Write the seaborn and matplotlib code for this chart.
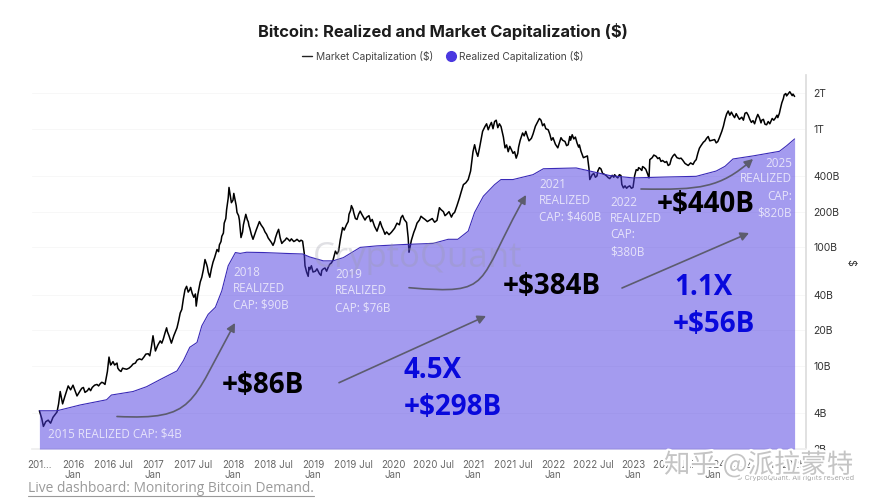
import pandas as pd
import seaborn as sns
import matplotlib.pyplot as plt
import matplotlib.patheffects as pe
from matplotlib.lines import Line2D
from matplotlib.patches import FancyArrowPatch
from matplotlib.path import Path

market_years = [
    2015.58, 2015.61, 2015.63, 2015.66, 2015.69, 2015.72, 2015.75, 2015.80, 2015.82, 2015.84,
    2015.87, 2015.90, 2015.94, 2015.97, 2016.00, 2016.03, 2016.05, 2016.09, 2016.13, 2016.15,
    2016.18, 2016.24, 2016.30, 2016.32, 2016.36, 2016.40, 2016.43, 2016.45, 2016.47, 2016.48,
    2016.55, 2016.56, 2016.60, 2016.64, 2016.67, 2016.73, 2016.78, 2016.83, 2016.89, 2016.94,
    2016.98, 2017.00, 2017.03, 2017.06, 2017.09, 2017.13, 2017.17, 2017.20, 2017.23, 2017.26,
    2017.30, 2017.34, 2017.38, 2017.42, 2017.46, 2017.49, 2017.53, 2017.54, 2017.56, 2017.59,
    2017.63, 2017.65, 2017.68, 2017.71, 2017.75, 2017.80, 2017.83, 2017.86, 2017.89, 2017.92,
    2017.95, 2017.98, 2018.01, 2018.04, 2018.05, 2018.08, 2018.10, 2018.13, 2018.16, 2018.19,
    2018.21, 2018.25, 2018.29, 2018.33, 2018.38, 2018.42, 2018.46, 2018.50, 2018.53, 2018.57,
    2018.59, 2018.61, 2018.65, 2018.69, 2018.78, 2018.87, 2018.89, 2018.90, 2018.94, 2018.96,
    2018.98, 2019.03, 2019.08, 2019.11, 2019.15, 2019.19, 2019.23, 2019.28, 2019.32, 2019.37,
    2019.42, 2019.45, 2019.48, 2019.51, 2019.55, 2019.59, 2019.63, 2019.67, 2019.74, 2019.80,
    2019.84, 2019.88, 2019.90, 2019.98, 2020.05, 2020.12, 2020.17, 2020.19, 2020.20, 2020.23,
    2020.26, 2020.30, 2020.35, 2020.40, 2020.46, 2020.55, 2020.58, 2020.63, 2020.67, 2020.77,
    2020.83, 2020.88, 2020.94, 2020.99, 2021.02, 2021.06, 2021.10, 2021.15, 2021.19, 2021.27,
    2021.31, 2021.35, 2021.38, 2021.40, 2021.48, 2021.54, 2021.59, 2021.62, 2021.68, 2021.73,
    2021.78, 2021.83, 2021.89, 2021.94, 2022.00, 2022.06, 2022.10, 2022.15, 2022.19, 2022.24,
    2022.30, 2022.35, 2022.38, 2022.43, 2022.45, 2022.46, 2022.49, 2022.53, 2022.56, 2022.60,
    2022.65, 2022.69, 2022.74, 2022.79, 2022.85, 2022.86, 2022.88, 2022.94, 2023.00, 2023.02,
    2023.04, 2023.09, 2023.14, 2023.18, 2023.20, 2023.21, 2023.29, 2023.37, 2023.46, 2023.50,
    2023.55, 2023.60, 2023.67, 2023.72, 2023.79, 2023.83, 2023.88, 2023.92, 2023.99, 2024.06,
    2024.11, 2024.15, 2024.19, 2024.25, 2024.31, 2024.40, 2024.46, 2024.52, 2024.56, 2024.61,
    2024.67, 2024.74, 2024.78, 2024.83, 2024.86, 2024.89, 2024.92, 2024.96, 2024.99, 2025.02,
]
market_cap = [
    4.2, 3.6, 3.1, 3.4, 3.5, 3.3, 3.7, 4.1, 4.8, 6.1,
    4.8, 5.6, 6.8, 6.3, 6.9, 6.1, 5.6, 6.2, 6.6, 6.0,
    6.2, 6.6, 7.0, 6.8, 7.3, 7.0, 9.0, 11.9, 10.2, 10.4,
    10.6, 9.6, 9.0, 9.5, 9.4, 10.0, 10.6, 11.5, 12.0, 12.7,
    14.5, 18.0, 13.4, 15.0, 16.3, 17.0, 21.0, 18.0, 15.6, 18.0,
    21.0, 28.0, 37.0, 47.0, 44.0, 41.0, 40.5, 32.0, 40.0, 51.0,
    65.0, 79.0, 68.0, 56.0, 75.0, 96.0, 105.0, 124.0, 160.0, 208.0,
    320.0, 238.0, 285.0, 225.0, 197.0, 170.0, 121.0, 155.0, 190.0, 165.0,
    145.0, 117.0, 140.0, 165.0, 145.0, 129.0, 115.0, 104.0, 120.0, 142.0,
    120.0, 108.0, 115.0, 117.0, 114.0, 113.0, 90.0, 70.0, 57.0, 65.0,
    70.0, 63.0, 60.0, 64.0, 67.0, 68.0, 74.0, 93.0, 93.0, 147.0,
    156.0, 190.0, 225.0, 195.0, 172.0, 202.0, 180.0, 179.0, 172.0, 137.0,
    165.0, 140.0, 129.0, 134.0, 160.0, 186.0, 162.0, 120.0, 91.0, 115.0,
    134.0, 160.0, 183.0, 172.0, 170.0, 169.0, 216.0, 200.0, 190.0, 197.0,
    260.0, 338.0, 373.0, 560.0, 733.0, 585.0, 800.0, 1045.0, 980.0, 1150.0,
    1020.0, 1045.0, 850.0, 690.0, 666.0, 565.0, 800.0, 920.0, 860.0, 830.0,
    1050.0, 1220.0, 1100.0, 980.0, 840.0, 690.0, 840.0, 780.0, 733.0, 890.0,
    760.0, 645.0, 570.0, 590.0, 460.0, 373.0, 410.0, 390.0, 440.0, 458.0,
    410.0, 387.0, 405.0, 395.0, 403.0, 340.0, 317.0, 325.0, 320.0, 400.0,
    452.0, 460.0, 470.0, 420.0, 385.0, 549.0, 585.0, 540.0, 500.0, 590.0,
    570.0, 565.0, 500.0, 515.0, 549.0, 685.0, 770.0, 830.0, 800.0, 780.0,
    950.0, 1200.0, 1410.0, 1300.0, 1265.0, 1350.0, 1200.0, 1100.0, 1320.0, 1180.0,
    1080.0, 1220.0, 1230.0, 1350.0, 1650.0, 1930.0, 1890.0, 2050.0, 1900.0, 1870.0,
]

# in-between wiggles of the same line, (year, cap)
market_detail = [
    (2016.07, 5.9), (2016.11, 6.5), (2016.20, 6.5), (2016.22, 6.2), (2016.27, 6.9), (2016.34, 7.1),
    (2016.38, 7.2), (2016.50, 10.9), (2016.52, 10.2), (2016.58, 9.2), (2016.62, 9.6), (2016.70, 9.6),
    (2016.75, 10.4), (2016.80, 11.2), (2016.86, 11.3), (2016.91, 12.6), (2016.96, 12.2),
    (2017.11, 15.6), (2017.15, 19), (2017.18, 19.5), (2017.28, 19.5), (2017.32, 24), (2017.36, 30),
    (2017.40, 44), (2017.44, 42), (2017.47, 46), (2017.51, 38), (2017.61, 56), (2017.67, 72),
    (2017.69, 62), (2017.73, 66), (2017.77, 82), (2017.82, 92), (2017.85, 112), (2017.88, 132),
    (2017.91, 175), (2017.94, 260), (2017.97, 265), (2018.00, 250), (2018.03, 245), (2018.07, 185),
    (2018.12, 135), (2018.15, 178), (2018.18, 170), (2018.20, 152), (2018.23, 128), (2018.27, 128),
    (2018.31, 152), (2018.35, 155), (2018.40, 135), (2018.44, 120), (2018.48, 110), (2018.52, 112),
    (2018.55, 132), (2018.63, 112), (2018.67, 120), (2018.71, 113), (2018.73, 118), (2018.76, 112),
    (2018.80, 117), (2018.83, 112), (2018.85, 115), (2018.92, 62), (2018.95, 68), (2019.00, 62),
    (2019.05, 66), (2019.10, 58), (2019.13, 66), (2019.17, 63), (2019.21, 72), (2019.25, 78),
    (2019.30, 88), (2019.34, 115), (2019.39, 140), (2019.44, 165), (2019.47, 205), (2019.50, 210),
    (2019.53, 175), (2019.57, 190), (2019.61, 190), (2019.65, 170), (2019.70, 185), (2019.72, 165),
    (2019.77, 150), (2019.82, 150), (2019.86, 150), (2019.92, 135), (2019.95, 128), (2020.02, 145),
    (2020.08, 155), (2020.10, 178), (2020.14, 172), (2020.28, 145), (2020.33, 170), (2020.37, 178),
    (2020.43, 165), (2020.49, 175), (2020.52, 163), (2020.60, 208), (2020.65, 185), (2020.70, 200),
    (2020.73, 180), (2020.75, 192), (2020.80, 225), (2020.85, 290), (2020.91, 350), (2020.97, 440),
    (2021.00, 640), (2021.04, 640), (2021.08, 680), (2021.12, 950), (2021.17, 1100), (2021.21, 1060),
    (2021.23, 1130), (2021.25, 1000), (2021.29, 1180), (2021.33, 1100), (2021.42, 730), (2021.44, 640),
    (2021.46, 710), (2021.50, 620), (2021.52, 640), (2021.56, 620), (2021.57, 700), (2021.64, 870),
    (2021.66, 950), (2021.70, 790), (2021.75, 900), (2021.81, 1150), (2021.85, 1180), (2021.87, 1060),
    (2021.91, 1000), (2021.96, 900), (2021.98, 800), (2022.03, 740), (2022.08, 760), (2022.12, 800),
    (2022.17, 720), (2022.21, 860), (2022.22, 800), (2022.26, 820), (2022.28, 850), (2022.32, 700),
    (2022.33, 730), (2022.51, 420), (2022.55, 400), (2022.58, 470), (2022.62, 420), (2022.67, 400),
    (2022.71, 380), (2022.76, 390), (2022.77, 410), (2022.81, 385), (2022.83, 410), (2022.90, 330),
    (2022.92, 315), (2022.96, 330), (2022.98, 315), (2023.06, 445), (2023.07, 470), (2023.11, 445),
    (2023.12, 480), (2023.16, 455), (2023.24, 570), (2023.26, 600), (2023.31, 560), (2023.33, 570),
    (2023.35, 530), (2023.40, 520), (2023.42, 530), (2023.44, 490), (2023.48, 560), (2023.52, 610),
    (2023.58, 560), (2023.62, 545), (2023.65, 510), (2023.69, 490), (2023.75, 500), (2023.77, 530),
    (2023.81, 620), (2023.85, 720), (2023.90, 790), (2023.94, 860), (2023.96, 790), (2024.02, 810),
    (2024.04, 760), (2024.08, 840), (2024.13, 1050), (2024.17, 1330), (2024.21, 1300), (2024.23, 1380),
    (2024.27, 1240), (2024.29, 1340), (2024.33, 1200), (2024.36, 1250), (2024.38, 1180), (2024.42, 1370),
    (2024.44, 1300), (2024.48, 1130), (2024.50, 1170), (2024.54, 1220), (2024.58, 1240), (2024.60, 1120),
    (2024.63, 1200), (2024.65, 1090), (2024.69, 1150), (2024.71, 1100), (2024.76, 1180), (2024.80, 1300),
    (2024.81, 1240), (2024.84, 1450), (2024.88, 1800), (2024.91, 1980), (2024.94, 1970), (2024.98, 1950),
    (2025.00, 1960),
]

realized_years = [
    2015.58, 2015.80, 2015.92, 2016.09, 2016.42, 2016.48, 2016.75, 2016.92, 2017.09, 2017.30,
    2017.38, 2017.46, 2017.55, 2017.61, 2017.69, 2017.78, 2017.86, 2017.94, 2018.03, 2018.09,
    2018.17, 2018.38, 2018.65, 2018.87, 2018.96, 2019.13, 2019.25, 2019.38, 2019.59, 2019.80,
    2020.17, 2020.50, 2020.69, 2020.81, 2020.94, 2021.02, 2021.13, 2021.27, 2021.35, 2021.50,
    2021.75, 2021.88, 2022.29, 2022.46, 2022.71, 2023.00, 2023.42, 2023.79, 2024.04, 2024.15,
    2024.25, 2024.50, 2024.83, 2024.92, 2025.02,
]
realized_cap = [
    4.2, 4.2, 4.4, 4.7, 5.2, 5.7, 6.1, 6.7, 7.7, 9.1,
    11.1, 14.4, 15.8, 21.8, 27.3, 31.3, 43.0, 70.0, 90.5, 89.0,
    91.0, 90.5, 89.0, 88.0, 83.0, 77.0, 77.0, 82.0, 100.0, 103.0,
    106.0, 108.0, 117.0, 117.0, 137.0, 197.0, 270.0, 338.0, 373.0, 373.0,
    410.0, 460.0, 467.0, 440.0, 403.0, 385.0, 392.0, 397.0, 440.0, 482.0,
    556.0, 590.0, 645.0, 718.0, 820.0,
]

x_ticks = [2015.575, 2016, 2016.5, 2017, 2017.5, 2018, 2018.5, 2019, 2019.5, 2020, 2020.5,
           2021, 2021.5, 2022, 2022.5, 2023, 2023.5, 2024, 2024.5, 2025]
x_labels = ["201...", "2016\nJan", "2016 Jul", "2017\nJan", "2017 Jul", "2018\nJan", "2018 Jul",
            "2019\nJan", "2019 Jul", "2020\nJan", "2020 Jul", "2021\nJan", "2021 Jul",
            "2022\nJan", "2022 Jul", "2023\nJan", "2023 Jul", "2024\nJan", "2024 Jul", "2025"]
y_ticks = [2, 4, 10, 20, 40, 100, 200, 400, 1000, 2000]
y_labels = ["2B", "4B", "10B", "20B", "40B", "100B", "200B", "400B", "1T", "2T"]

W, H = 873, 500
PURPLE = "#4a38e0"
BLUE = "#0808dc"
PALE = "#e6e3fa"

market = pd.DataFrame({"year": market_years, "cap": market_cap})
detail = pd.DataFrame(market_detail, columns=["year", "cap"])
market = pd.concat([market, detail]).sort_values("year")
realized = pd.DataFrame({"year": realized_years, "cap": realized_cap})

sns.set_theme(style="white")
plt.rcParams["font.family"] = ["Inter", "DejaVu Sans"]

fig = plt.figure(figsize=(W / 100, H / 100), dpi=100, facecolor="white")
ax = fig.add_axes([32 / W, 1 - 449 / H, (806 - 32) / W, (449 - 75) / H])

sns.lineplot(data=market, x="year", y="cap", color="black", linewidth=1.1,
             estimator=None, sort=False, ax=ax, zorder=2)
sns.lineplot(data=realized, x="year", y="cap", color="#3a2ab8", linewidth=0.8,
             estimator=None, sort=False, ax=ax, zorder=4)
ax.fill_between(realized["year"], realized["cap"], 2, color=PURPLE, alpha=0.5,
                linewidth=0, zorder=3)

ax.set_yscale("log")
ax.set_xlim(2015.4875, 2025.1625)
ax.set_ylim(2, 2836)
ax.set_xticks(x_ticks)
ax.set_xticklabels(x_labels, fontsize=7, color="#666666", linespacing=0.95)
ax.set_yticks(y_ticks)
ax.set_yticklabels(y_labels, fontsize=7.5, color="#333333")
ax.minorticks_off()
ax.yaxis.tick_right()
ax.tick_params(axis="x", length=0, pad=8)
ax.tick_params(axis="y", length=0, pad=5.5)
ax.set_xlabel("")
ax.set_ylabel("")
ax.grid(axis="y", color="#f7f7f7", linewidth=0.7)
ax.set_axisbelow(True)
for side in ["top", "left"]:
    ax.spines[side].set_visible(False)
ax.spines["right"].set_color("#dddddd")
ax.spines["bottom"].set_color("#eeeeee")


def px(x, y):
    return x / W, 1 - y / H


def label(x, y, s, **kw):
    kw.setdefault("ha", "left")
    kw.setdefault("va", "center")
    fx, fy = px(x, y)
    return fig.text(fx, fy, s, **kw)


def arrow(points, curved=False):
    pts = [px(*p) for p in points]
    if curved:
        codes = [Path.MOVETO] + [Path.CURVE4] * (len(pts) - 1)
    else:
        codes = [Path.MOVETO, Path.LINETO]
    fig.add_artist(FancyArrowPatch(path=Path(pts, codes), transform=fig.transFigure,
                                   arrowstyle="-|>,head_length=5,head_width=2.6",
                                   color="#5c5c6e", linewidth=1.2, zorder=6))


fx, fy = px(418, 258)
fig.text(fx, fy, "CryptoQuant", fontsize=25, color="#9a9aa8", alpha=0.3, ha="center", va="center",
         family="Open Sans", zorder=5)

# title and legend
label(442.5, 31, "Bitcoin: Realized and Market Capitalization ($)", ha="center",
      fontsize=11.9, fontweight="bold", color="#1c1c1c")
handles = [
    Line2D([0], [0], color="#222222", linewidth=1),
    Line2D([0], [0], color=PURPLE, marker="o", markersize=7, linestyle="none"),
]
fig.legend(handles, ["Market Capitalization ($)", "Realized Capitalization ($)"],
           loc="center", bbox_to_anchor=px(443, 56), ncol=2, frameon=False, fontsize=7.3,
           labelcolor="#444444", handlelength=1, handletextpad=0.35, columnspacing=1.2)

# pale notes over the fill
note = dict(fontsize=8.4, color=PALE, family="Open Sans", zorder=7)
label(48, 434, "2015 REALIZED CAP: $4B", **note)
for x, ys, lines in [
    (233, [272, 289, 305], ["2018", "REALIZED", "CAP: $90B"]),
    (335, [274, 291, 308], ["2019", "REALIZED", "CAP: $76B"]),
    (539, [184, 200, 217], ["2021", "REALIZED", "CAP: $460B"]),
    (610, [202, 218, 235, 252], ["2022", "REALIZED", "CAP:", "$380B"]),
]:
    for y, s in zip(ys, lines):
        label(x, y, s, **note)
for y, s in zip([163, 179, 196, 213], ["2025", "REALIZED", "CAP:", "$820B"]):
    label(792, y, s, ha="right", **note)

# big callouts
big = dict(fontsize=20, fontweight="bold", family="Open Sans", zorder=7)
label(222, 385.5, "+$86B", color="black", **big)
label(503, 286.5, "+$384B", color="black", **big)
label(657, 205, "+$440B", color="black", **big)
label(404, 370.5, "4.5X", color=BLUE, **big)
label(404, 407.5, "+$298B", color=BLUE, **big)
label(674, 287.5, "1.1X", color=BLUE, **big)
label(673, 324.5, "+$56B", color=BLUE, **big)

arrow([(117, 416.5), (195, 420), (190, 405), (235, 323)], curved=True)
arrow([(339, 382.7), (486, 316)])
arrow([(409, 287.7), (495, 295), (475, 285), (526, 195)], curved=True)
arrow([(622, 288), (749, 233)])
arrow([(641, 189), (700, 190), (720, 188), (753, 159)], curved=True)

label(850, 262, "$", rotation=270, ha="center", fontsize=7.5, color="#333333")

# footer
label(28, 489, "Live dashboard: Monitoring Bitcoin Demand.", fontsize=9.95, color="#9a9a9a",
      family="Open Sans")
fig.add_artist(Line2D([28 / W, 314 / W], [1 - 496 / H, 1 - 496 / H], color="#9a9a9a", linewidth=0.8))
label(854, 478, "© CryptoQuant. All rights reserved", ha="right", fontsize=5.2, color="#aaaaaa")
label(664, 465, "知乎 @派拉蒙特", fontsize=19, color="#c4c4c4",
      family=["Noto Sans CJK SC", "DejaVu Sans"], fontweight="light",
      path_effects=[pe.withStroke(linewidth=3, foreground="white")])

fig.savefig("out.png", dpi=100, facecolor="white")
